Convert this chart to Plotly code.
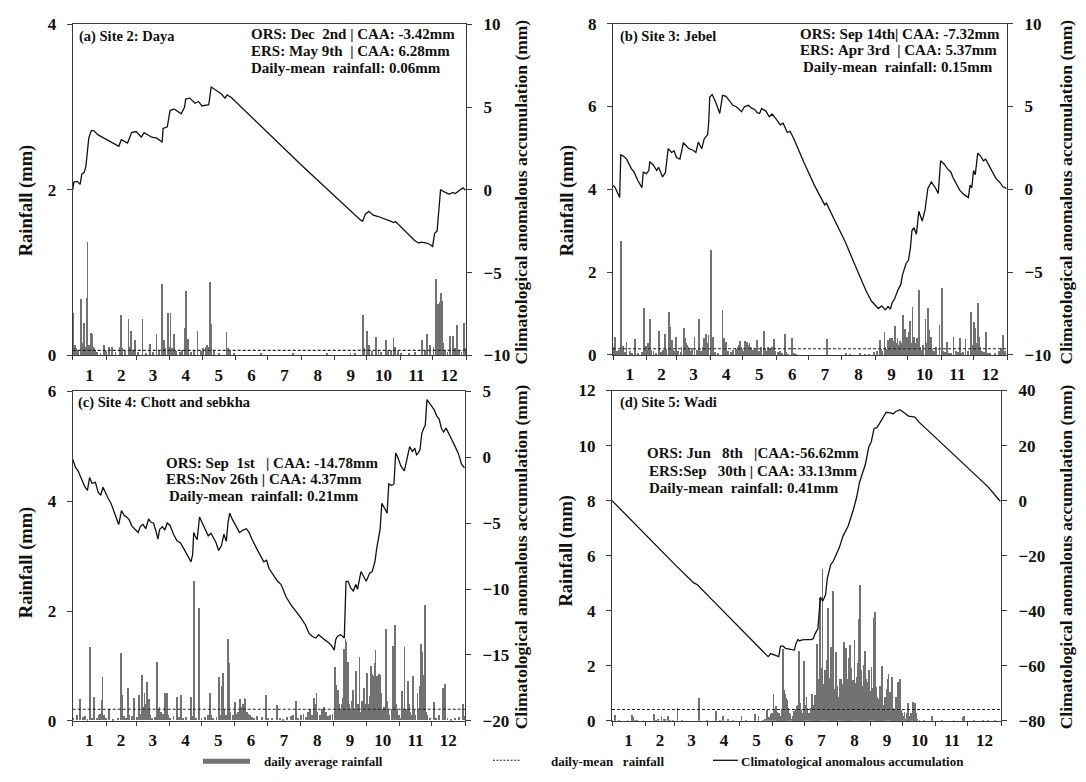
import plotly.graph_objects as go

W, H = 1086, 782

# ---------------- shared axis data ----------------
month_labels = ['1', '2', '3', '4', '5', '6', '7', '8', '9', '10', '11', '12']
month_mid = [16, 45.5, 75, 105.5, 136, 166.5, 197, 228, 258.5, 289, 319.5, 350]
month_edges = [0.5, 31.5, 59.5, 90.5, 120.5, 151.5, 181.5, 212.5, 243.5, 273.5, 304.5, 334.5, 365.5]

# ---------------- (a) Site 2: Daya ----------------
rain_day_a = [1, 2, 3, 5, 8, 9, 11, 12, 13, 14, 15, 16, 17, 18, 19, 20, 21, 23, 26, 29, 31, 34, 37, 40, 44, 45,
              46, 49, 52, 53, 54, 56, 58, 61, 65, 68, 72, 75, 78, 80, 83, 84, 85, 86, 89, 90, 91, 92, 94, 96, 100,
              102, 104, 105, 107, 110, 113, 116, 119, 121, 124, 125, 126, 128, 129, 131, 136, 143, 144, 146, 150,
              175, 205, 236, 258, 262, 270, 271, 273, 275, 278, 282, 284, 286, 291, 293, 296, 298, 299, 302, 305,
              312, 318, 324, 327, 329, 332, 335, 337, 338, 339, 340, 341, 342, 343, 344, 346, 348, 350, 353, 355,
              357, 359, 361, 363, 364]
rain_val_a = [0.51, 0.12, 0.08, 0.06, 0.68, 0.14, 0.39, 0.10, 0.69, 1.37, 0.12, 0.08, 0.27, 0.25, 0.10, 0.08, 0.06,
              0.04, 0.03, 0.12, 0.05, 0.10, 0.10, 0.04, 0.10, 0.48, 0.08, 0.05, 0.43, 0.10, 0.29, 0.06, 0.18, 0.04,
              0.43, 0.03, 0.13, 0.04, 0.25, 0.06, 0.86, 0.12, 0.18, 0.08, 0.51, 0.10, 0.51, 0.08, 0.25, 0.05, 0.04,
              0.06, 0.33, 0.77, 0.19, 0.04, 0.06, 0.29, 0.05, 0.08, 0.10, 0.12, 0.10, 0.88, 0.37, 0.06, 0.03, 0.28,
              0.08, 0.05, 0.02, 0.02, 0.02, 0.02, 0.02, 0.03, 0.49, 0.08, 0.29, 0.12, 0.05, 0.22, 0.06, 0.04, 0.18,
              0.05, 0.06, 0.21, 0.10, 0.05, 0.03, 0.03, 0.04, 0.18, 0.05, 0.25, 0.12, 0.10, 0.92, 0.33, 0.62, 0.45,
              0.64, 0.75, 0.65, 0.15, 0.06, 0.04, 0.23, 0.23, 0.08, 0.36, 0.06, 0.04, 0.39, 0.08]
caa_day_a = [0.5, 1.6, 4.8, 7.4, 9.0, 11.2, 12.8, 15.4, 17.7, 19.9, 24.1, 32.1, 43.3, 45.6, 51.4, 55.2, 59.4, 64.2,
             66.8, 73.8, 78.6, 81.2, 83.5, 84.4, 88.3, 90.8, 94.7, 101.1, 104.3, 105.3, 109.1, 114.0, 117.2, 120.4,
             126.8, 129.0, 138.0, 141.9, 143.8, 147.7, 211.9, 268.0, 269.6, 272.2, 275.4, 279.3, 284.1, 295.3,
             298.5, 300.1, 317.8, 321.6, 324.2, 329.0, 332.2, 334.5, 336.4, 338.7, 341.9, 344.1, 349.9, 353.1,
             355.7, 359.5, 362.7, 365.0]
caa_val_a = [0.0, 0.47, 0.51, 0.33, 0.96, 1.06, 1.45, 3.12, 3.58, 3.58, 3.32, 3.03, 2.63, 3.03, 2.83, 3.46, 3.52,
             3.18, 3.46, 3.18, 3.12, 2.99, 2.87, 3.71, 3.81, 4.79, 4.89, 4.60, 4.99, 5.48, 5.54, 5.23, 5.34, 5.07,
             5.15, 6.21, 5.82, 5.54, 5.74, 5.58, 1.55, -1.85, -1.89, -1.45, -1.30, -1.53, -1.61, -1.89, -1.98,
             -1.92, -3.06, -3.22, -3.16, -3.22, -3.30, -3.42, -2.63, -2.48, 0.02, -0.08, -0.27, -0.16, -0.22,
             -0.02, 0.12, -0.02]
mean_a = 0.06

# ---------------- (b) Site 3: Jebel ----------------
rain_day_b = [1, 2, 4, 6, 8, 9, 10, 12, 13, 16, 18, 21, 24, 27, 29, 30, 31, 32, 33, 35, 36, 38, 40, 43, 45, 47, 49,
              50, 52, 53, 54, 55, 56, 57, 59, 61, 63, 64, 66, 67, 68, 69, 70, 71, 72, 74, 76, 78, 80, 82, 84, 85,
              87, 88, 89, 91, 92, 93, 95, 98, 102, 103, 104, 105, 107, 110, 112, 114, 115, 116, 117, 118, 119, 120,
              121, 123, 124, 125, 126, 127, 128, 130, 132, 134, 136, 138, 140, 141, 143, 144, 146, 147, 148, 150,
              151, 153, 155, 157, 160, 161, 163, 166, 168, 170, 199, 216, 220, 229, 234, 238, 242, 245, 248, 249,
              250, 252, 253, 254, 255, 256, 257, 258, 259, 260, 261, 262, 263, 264, 265, 266, 267, 268, 269, 270,
              271, 272, 273, 275, 276, 277, 278, 279, 280, 281, 282, 283, 284, 285, 286, 288, 290, 291, 292, 293,
              294, 295, 296, 298, 300, 303, 305, 306, 308, 310, 312, 314, 316, 318, 320, 322, 324, 325, 327, 329,
              332, 333, 334, 335, 336, 337, 338, 339, 340, 341, 342, 344, 346, 348, 350, 354, 358, 360, 362, 364]
rain_val_b = [0.20, 0.45, 0.10, 0.12, 2.77, 0.15, 0.22, 0.08, 0.32, 0.10, 0.06, 0.39, 0.05, 0.08, 1.14, 0.20, 0.22,
              0.15, 0.30, 0.88, 0.12, 0.10, 0.06, 0.59, 0.08, 0.12, 0.51, 0.15, 1.05, 0.69, 0.30, 0.38, 0.12, 0.10,
              0.43, 0.10, 0.08, 0.20, 0.66, 0.41, 0.30, 0.25, 0.20, 0.15, 0.10, 0.18, 0.44, 0.12, 0.88, 0.10, 0.20,
              0.41, 0.52, 0.30, 0.49, 2.54, 0.20, 0.45, 0.08, 0.05, 1.09, 0.41, 0.15, 0.31, 0.10, 0.08, 0.12, 0.18,
              0.15, 0.20, 0.25, 0.35, 0.20, 0.15, 0.10, 0.34, 0.30, 0.33, 0.25, 0.30, 0.20, 0.12, 0.15, 0.38, 0.10,
              0.20, 0.59, 0.15, 0.10, 0.20, 0.15, 0.12, 0.20, 0.40, 0.10, 0.08, 0.10, 0.05, 0.52, 0.08, 0.04, 0.41,
              0.05, 0.03, 0.39, 0.05, 0.03, 0.05, 0.04, 0.04, 0.08, 0.10, 0.38, 0.15, 0.10, 0.55, 0.20, 0.15, 0.38,
              0.12, 0.41, 0.20, 0.41, 0.30, 0.35, 0.71, 0.30, 0.41, 0.25, 0.34, 0.20, 0.30, 0.98, 0.25, 0.63, 0.30,
              0.45, 0.55, 0.82, 0.30, 1.17, 0.45, 0.20, 0.30, 0.41, 0.15, 1.57, 0.20, 0.12, 0.25, 0.87, 0.30, 1.14,
              0.61, 0.20, 0.45, 0.15, 0.10, 0.20, 0.74, 1.63, 0.10, 0.08, 0.32, 0.05, 0.06, 0.45, 0.10, 0.08, 0.41,
              0.06, 0.08, 0.40, 0.10, 1.04, 0.25, 0.20, 0.80, 0.66, 0.30, 0.20, 1.25, 0.45, 0.20, 0.10, 0.08, 0.55,
              0.05, 0.06, 0.05, 0.10, 0.18, 0.48, 0.10]
caa_day_b = [0.5, 2.6, 6.7, 7.7, 10.6, 13.1, 17.6, 19.6, 23.4, 27.3, 28.5, 31.4, 33.7, 34.6, 37.8, 41.0, 42.7, 46.5,
             49.1, 51.6, 54.8, 57.1, 59.3, 62.5, 65.7, 68.3, 70.9, 74.1, 77.3, 79.5, 82.7, 85.0, 88.2, 89.2, 90.1,
             92.4, 95.6, 99.4, 102.0, 105.2, 109.4, 111.6, 114.8, 117.1, 119.6, 122.2, 126.0, 129.2, 131.8, 134.1,
             136.3, 138.2, 142.1, 145.3, 147.8, 151.7, 155.5, 158.1, 161.9, 164.5, 167.7, 177.3, 187.0, 196.6,
             198.2, 206.2, 215.8, 222.2, 228.7, 235.1, 239.9, 243.1, 246.3, 249.5, 252.7, 255.3, 257.5, 259.1,
             261.4, 264.6, 267.1, 268.7, 272.0, 274.2, 276.1, 277.4, 279.3, 281.6, 283.8, 287.0, 289.6, 292.2,
             295.4, 298.6, 301.8, 304.0, 307.2, 310.4, 313.6, 315.2, 318.5, 321.7, 325.5, 329.7, 331.3, 332.9,
             334.5, 336.1, 338.4, 340.9, 343.5, 345.7, 350.5, 355.3, 358.5, 361.8, 365.0]
caa_val_b = [0.25, 0.09, -0.50, 2.08, 1.98, 1.82, 1.23, 1.09, 0.54, 0.09, 1.03, 0.94, 1.13, 1.67, 1.47, 1.13, 1.33,
             0.74, 1.03, 2.45, 2.22, 2.32, 1.92, 1.82, 2.81, 2.65, 2.45, 2.37, 2.22, 2.85, 2.45, 3.04, 3.30, 4.09,
             5.57, 5.72, 5.27, 4.58, 5.67, 5.61, 5.27, 5.07, 4.98, 4.82, 4.68, 4.98, 5.07, 4.88, 4.82, 4.62, 4.58,
             4.88, 4.72, 4.38, 4.54, 4.23, 3.89, 3.99, 3.44, 3.50, 3.10, 1.63, 0.25, -0.94, -0.84, -1.92, -3.20,
             -4.19, -5.17, -6.16, -6.75, -6.95, -7.20, -7.04, -7.28, -7.08, -7.24, -6.85, -6.61, -6.06, -5.76,
             -5.17, -4.48, -4.29, -3.50, -2.51, -2.32, -2.71, -1.33, -1.92, -1.23, 0.05, 0.44, 0.15, -0.25, 1.72,
             1.53, 1.23, 1.03, 0.74, 0.34, -0.05, -0.31, -0.50, 0.25, 0.09, 1.13, 0.88, 2.18, 2.02, 1.72, 1.82,
             1.23, 0.64, 0.44, 0.15, 0.05]
mean_b = 0.15

# ---------------- (c) Site 4: Chott and sebkha ----------------
rain_day_c = [1, 4, 7, 10, 12, 14, 16, 18, 20, 23, 25, 26, 27, 28, 29, 31, 34, 38, 42, 45, 46, 48, 50, 52, 53, 55,
              57, 60, 62, 63, 65, 66, 67, 68, 69, 70, 71, 72, 74, 77, 79, 80, 81, 82, 83, 84, 86, 87, 88, 89, 91,
              94, 97, 99, 101, 103, 106, 110, 111, 113, 115, 118, 120, 123, 126, 128, 129, 131, 134, 136, 137, 139,
              140, 141, 143, 145, 146, 147, 149, 151, 152, 154, 156, 157, 158, 159, 160, 161, 162, 163, 165, 167,
              169, 172, 176, 180, 182, 186, 190, 193, 196, 200, 203, 205, 208, 210, 213, 215, 217, 219, 221, 223,
              225, 226, 227, 228, 230, 232, 234, 236, 238, 240, 242, 244, 245, 246, 247, 248, 249, 250, 251, 252,
              253, 254, 255, 256, 257, 258, 259, 260, 261, 262, 263, 264, 265, 266, 267, 268, 269, 271, 272, 273,
              274, 275, 276, 277, 278, 279, 280, 281, 282, 283, 284, 285, 286, 287, 288, 289, 290, 292, 293, 294,
              295, 297, 298, 299, 300, 301, 302, 304, 305, 307, 308, 309, 310, 312, 313, 314, 315, 317, 318, 319,
              321, 322, 323, 324, 325, 326, 327, 328, 329, 330, 333, 336, 338, 341, 345, 347, 349, 352, 356, 360,
              363, 364]
rain_val_c = [0.05, 0.10, 0.38, 0.06, 0.08, 0.03, 1.34, 0.05, 0.43, 0.04, 0.10, 0.12, 0.37, 0.78, 0.10, 0.05, 0.20,
              0.03, 0.05, 1.22, 0.47, 0.08, 0.05, 0.58, 0.10, 0.08, 0.40, 0.06, 0.47, 0.12, 0.82, 0.25, 0.49, 0.30,
              0.69, 0.15, 0.38, 0.10, 0.05, 0.06, 1.07, 0.20, 0.25, 0.15, 0.10, 0.12, 0.49, 0.20, 0.49, 0.10, 0.05,
              0.08, 0.43, 0.06, 0.46, 0.04, 0.06, 0.43, 0.08, 2.53, 0.05, 2.05, 0.04, 0.06, 0.10, 0.49, 0.10, 0.05,
              0.06, 0.78, 0.10, 0.62, 0.86, 0.20, 0.10, 1.49, 1.04, 0.15, 0.10, 0.33, 0.12, 0.15, 0.38, 0.20, 0.25,
              0.30, 0.41, 0.38, 0.15, 0.12, 0.10, 0.06, 0.05, 0.08, 0.06, 0.47, 0.05, 0.04, 0.27, 0.05, 0.03, 0.06,
              0.08, 0.10, 0.36, 0.05, 0.10, 0.12, 0.06, 0.15, 0.20, 0.10, 0.41, 0.30, 0.49, 0.15, 0.10, 0.20, 0.25,
              0.15, 0.08, 0.10, 0.12, 0.98, 0.65, 0.20, 0.55, 0.30, 0.15, 0.20, 0.30, 0.40, 1.30, 1.49, 1.43, 1.07,
              0.30, 0.20, 0.15, 0.35, 0.56, 0.20, 0.15, 0.90, 0.20, 0.30, 1.15, 0.15, 0.35, 0.59, 0.25, 0.30, 0.86,
              0.20, 0.30, 0.45, 0.99, 0.84, 0.80, 1.04, 1.29, 0.80, 0.78, 0.84, 0.82, 0.50, 0.20, 0.15, 0.25, 1.67,
              0.35, 0.20, 0.10, 0.20, 1.35, 0.30, 1.73, 0.30, 0.20, 0.10, 0.05, 0.53, 0.20, 1.33, 0.20, 0.71, 0.30,
              0.15, 0.10, 0.81, 0.20, 0.10, 0.49, 0.20, 0.62, 1.39, 1.24, 0.83, 0.30, 2.10, 0.15, 0.10, 0.05, 0.34,
              0.05, 0.10, 0.58, 0.66, 0.05, 0.03, 0.04, 0.06, 0.30, 0.08]
caa_day_c = [0.6, 3.2, 5.5, 8.7, 12.0, 14.2, 16.2, 18.4, 21.6, 24.2, 26.5, 28.7, 31.3, 33.6, 36.2, 41.0, 43.3, 45.9,
             48.5, 50.7, 53.0, 55.6, 58.8, 61.4, 63.6, 65.9, 68.5, 71.1, 73.3, 75.6, 78.2, 79.8, 81.4, 84.0, 86.2,
             88.5, 91.1, 94.3, 97.5, 100.8, 104.0, 107.2, 110.5, 112.1, 113.1, 114.3, 116.3, 118.5, 120.8, 123.4,
             126.6, 129.2, 131.5, 133.7, 136.3, 138.9, 141.2, 143.4, 145.0, 146.6, 149.2, 152.5, 155.7, 158.9,
             162.1, 164.7, 167.0, 171.8, 178.3, 180.9, 183.1, 188.0, 191.2, 194.4, 199.3, 204.1, 209.0, 212.2,
             217.1, 220.3, 223.5, 226.7, 229.3, 231.6, 234.8, 238.1, 241.3, 243.9, 245.2, 246.8, 249.4, 251.0,
             253.2, 254.8, 256.8, 259.0, 261.6, 263.9, 265.5, 268.7, 271.3, 273.6, 276.8, 279.1, 281.7, 283.3,
             286.5, 288.1, 290.7, 293.0, 294.6, 297.2, 299.4, 301.0, 302.7, 305.9, 309.1, 311.4, 314.0, 316.5,
             318.8, 320.4, 322.0, 323.6, 325.3, 326.9, 328.5, 330.1, 333.3, 336.6, 339.2, 341.4, 343.7, 345.6,
             347.9, 350.1, 352.7, 355.9, 359.2, 362.4, 365.0]
caa_val_c = [-0.17, -0.79, -1.03, -1.65, -2.27, -2.51, -1.53, -1.97, -1.90, -2.64, -2.88, -2.27, -2.76, -3.13,
             -3.50, -4.48, -5.10, -4.04, -4.43, -4.53, -4.73, -5.22, -5.47, -5.71, -5.22, -5.10, -5.42, -4.68,
             -4.93, -4.98, -5.67, -6.21, -5.47, -5.27, -5.52, -4.98, -5.17, -5.84, -6.33, -6.50, -6.95, -7.44,
             -7.93, -7.39, -5.71, -5.96, -6.26, -4.53, -4.93, -5.47, -5.96, -5.76, -6.08, -6.45, -7.07, -6.70,
             -5.84, -6.38, -4.98, -4.24, -4.73, -5.22, -5.71, -5.52, -5.42, -5.71, -6.16, -6.95, -7.93, -7.81,
             -8.42, -9.04, -9.41, -9.66, -10.64, -11.26, -11.75, -12.12, -12.73, -13.35, -13.60, -13.72, -13.47,
             -13.65, -13.84, -14.04, -14.29, -14.63, -13.84, -13.60, -13.47, -13.55, -13.72, -9.41, -9.41, -9.90,
             -10.15, -9.66, -10.02, -8.67, -9.04, -9.41, -8.79, -8.67, -7.93, -6.95, -5.47, -3.50, -3.87, -4.24,
             -2.02, -2.14, -2.02, 0.32, 0.07, -0.67, -1.03, -0.05, 0.81, 0.44, 0.69, 0.20, 0.32, 0.57, 1.80, 2.17,
             2.41, 4.38, 4.01, 3.65, 3.15, 2.91, 2.17, 1.92, 2.22, 1.80, 1.43, 0.89, 0.32, -0.54, -0.79]
mean_c = 0.21

# ---------------- (d) Site 5: Wadi ----------------
rain_day_d = [1, 3, 7, 15, 19, 20, 22, 24, 30, 40, 42, 44, 47, 49, 50, 53, 55, 58, 62, 66, 82, 90, 98, 102, 105,
              109, 114, 122, 126, 135, 138, 142, 144, 146, 148, 150, 151, 152, 153, 154, 155, 156, 157, 158, 159,
              160, 161, 162, 163, 164, 165, 166, 167, 168, 169, 170, 171, 172, 173, 174, 175, 176, 177, 178, 179,
              180, 181, 182, 183, 184, 185, 186, 187, 188, 189, 190, 191, 192, 193, 194, 195, 196, 197, 198, 199,
              200, 201, 202, 203, 204, 205, 206, 207, 208, 209, 210, 211, 212, 213, 214, 215, 216, 217, 218, 219,
              220, 221, 222, 223, 224, 225, 226, 227, 228, 229, 230, 231, 232, 233, 234, 235, 236, 237, 238, 239,
              240, 241, 242, 243, 244, 245, 246, 247, 248, 249, 250, 251, 252, 253, 254, 255, 256, 257, 258, 259,
              260, 261, 262, 263, 264, 265, 266, 267, 268, 269, 270, 271, 272, 273, 274, 275, 276, 277, 278, 279,
              280, 281, 283, 284, 285, 286, 287, 289, 293, 301, 310, 321, 330, 331, 340, 349, 353, 360]
rain_val_d = [0.05, 0.23, 0.05, 0.04, 0.23, 0.15, 0.06, 0.04, 0.03, 0.27, 0.05, 0.10, 0.21, 0.08, 0.10, 0.20, 0.06,
              0.05, 0.47, 0.03, 0.86, 0.03, 0.39, 0.04, 0.21, 0.10, 0.05, 0.21, 0.05, 0.26, 0.21, 0.06, 0.10, 0.41,
              0.15, 0.25, 0.30, 1.00, 0.40, 0.56, 0.35, 0.25, 0.30, 0.15, 0.20, 0.45, 2.61, 1.12, 1.00, 0.85, 0.76,
              0.47, 0.30, 0.25, 0.10, 0.20, 0.38, 0.30, 0.45, 0.56, 0.60, 2.55, 0.68, 0.40, 0.20, 0.30, 2.20, 0.59,
              0.90, 0.50, 0.30, 0.25, 0.50, 1.00, 0.40, 0.60, 0.96, 0.80, 2.80, 1.53, 1.20, 4.49, 1.94, 5.55, 1.35,
              1.88, 1.10, 2.23, 4.11, 1.59, 0.90, 2.70, 2.12, 4.72, 1.18, 1.00, 2.51, 1.29, 0.90, 1.53, 1.55, 1.35,
              0.80, 2.88, 1.88, 2.68, 1.53, 1.10, 2.29, 2.76, 1.94, 1.20, 1.50, 2.96, 1.40, 1.60, 2.12, 3.70, 4.94,
              1.88, 1.06, 1.30, 2.06, 2.56, 1.53, 1.20, 1.41, 1.88, 1.10, 1.97, 1.20, 3.76, 3.97, 1.23, 0.90, 0.65,
              0.80, 1.29, 0.70, 2.00, 0.60, 0.50, 0.90, 1.18, 1.55, 1.70, 1.06, 0.80, 1.62, 0.50, 0.30, 0.40, 0.88,
              0.60, 1.41, 1.27, 1.55, 0.40, 0.30, 0.20, 0.35, 0.10, 0.30, 0.68, 0.20, 0.15, 0.30, 0.70, 0.40, 0.65,
              0.30, 0.10, 0.05, 0.03, 0.21, 0.03, 0.04, 0.15, 0.21, 0.03, 0.04, 0.06, 0.03]
caa_day_d = [0.5, 15.6, 28.6, 44.9, 61.0, 77.0, 80.6, 93.6, 110.0, 126.0, 139.0, 144.0, 147.0, 149.5, 153.0, 157.0,
             158.6, 161.2, 163.4, 167.7, 171.6, 173.2, 174.9, 176.5, 178.1, 181.0, 187.2, 189.4, 191.0, 193.7,
             195.0, 196.0, 198.3, 200.9, 202.5, 205.7, 208.0, 210.6, 213.9, 217.2, 222.0, 226.9, 230.1, 232.7,
             235.0, 238.2, 241.5, 243.8, 246.4, 249.0, 251.3, 254.5, 257.8, 262.0, 264.3, 266.5, 270.7, 274.0,
             278.8, 284.7, 288.6, 304.9, 321.0, 337.3, 353.6, 363.3, 365.0]
caa_val_d = [0.0, -6.0, -11.1, -17.5, -23.8, -29.8, -30.6, -35.7, -42.2, -48.5, -53.6, -55.5, -56.7, -55.6, -56.0,
             -56.7, -52.9, -52.9, -53.7, -54.1, -54.3, -51.9, -50.5, -51.0, -50.7, -50.5, -50.5, -50.1, -48.4,
             -46.6, -40.1, -35.1, -36.5, -34.2, -28.3, -23.3, -22.1, -20.0, -17.0, -12.9, -9.3, -3.4, 1.3, 6.6,
             9.0, 13.1, 19.6, 21.4, 26.2, 26.5, 27.9, 29.9, 32.1, 31.9, 31.5, 32.3, 33.0, 32.1, 30.7, 30.3, 28.5,
             22.6, 16.7, 10.8, 4.9, 0.4, -0.3]
mean_d = 0.41

# ---------------- panel texts / scales ----------------
titles = ['(a) Site 2: Daya', '(b) Site 3: Jebel', '(c) Site 4: Chott and sebkha', '(d) Site 5: Wadi']
info_texts = [
    ['ORS: Dec\u00a0\u00a02nd | CAA: -3.42mm', 'ERS: May 9th\u00a0 | CAA: 6.28mm', 'Daily-mean\u00a0 rainfall: 0.06mm'],
    ['ORS: Sep 14th| CAA: -7.32mm', 'ERS:\u00a0Apr 3rd\u00a0 | CAA: 5.37mm', 'Daily-mean\u00a0 rainfall: 0.15mm'],
    ['ORS:\u00a0Sep\u00a0\u00a01st\u00a0\u00a0 | CAA: -14.78mm', 'ERS:Nov\u00a026th | CAA:\u00a04.37mm', 'Daily-mean\u00a0 rainfall:\u00a00.21mm'],
    ['ORS:\u00a0Jun\u00a0\u00a0 8th\u00a0\u00a0 |CAA:-56.62mm', 'ERS:Sep\u00a0\u00a0 30th | CAA:\u00a033.13mm', 'Daily-mean\u00a0 rainfall:\u00a00.41mm'],
]
left_ranges = [[0, 4], [0, 8], [0, 6], [0, 12]]
left_ticks = [[0, 2, 4], [0, 2, 4, 6, 8], [0, 2, 4, 6], [0, 2, 4, 6, 8, 10, 12]]
right_ranges = [[-10, 10], [-10, 10], [-20, 5], [-80, 40]]
right_ticks = [[-10, -5, 0, 5, 10], [-10, -5, 0, 5, 10], [-20, -15, -10, -5, 0, 5], [-80, -60, -40, -20, 0, 20, 40]]
legend_labels = ['daily average rainfall', 'daily-mean\u00a0\u00a0 rainfall', 'Climatological anomalous accumulation']
left_title = 'Rainfall (mm)'
right_title = 'Climatological anomalous accumulation (mm)'

rain_days = [rain_day_a, rain_day_b, rain_day_c, rain_day_d]
rain_vals = [rain_val_a, rain_val_b, rain_val_c, rain_val_d]
caa_days = [caa_day_a, caa_day_b, caa_day_c, caa_day_d]
caa_vals = [caa_val_a, caa_val_b, caa_val_c, caa_val_d]
means = [mean_a, mean_b, mean_c, mean_d]

# ---------------- layout geometry (pixels) ----------------
boxes = [(72.7, 466, 15.7, 355), (613, 1007, 15, 354.5), (72.7, 465, 392, 729.5), (612, 1001, 391, 729.5)]
title_pos = [(77, 28.5), (618, 28.5), (76, 403), (618, 403)]
info_pos = [[(249, 26), (249, 43), (249, 60.5)],
            [(798, 26), (798, 42), (801, 59.5)],
            [(164, 465), (164, 482), (167, 499)],
            [(645, 455), (647, 473), (647, 491)]]
ltitle_pos = [(26, 196), (567, 196), (26, 567), (567, 555)]
rtitle_pos = [(521, 188), (1066, 188), (521, 562), (1066, 562)]

FONT = 'Liberation Serif, Times New Roman, serif'
INK = '#111111'
AX = '#3a3a3a'
TICKSIZE = 17


def px(x):
    return x / W


def py(y):
    return 1 - y / H


fig = go.Figure()
layout = dict(width=W, height=H, autosize=False, margin=dict(l=0, r=0, t=0, b=0),
              paper_bgcolor='white', plot_bgcolor='white', showlegend=False,
              font=dict(family=FONT, color=INK, size=14, weight='bold'), bargap=0)
annotations = []
shapes = []

for k in range(4):
    xid = 'x' if k == 0 else f'x{k + 1}'
    ly = 2 * k + 1
    ry = 2 * k + 2
    lid = 'y' if ly == 1 else f'y{ly}'
    rid = f'y{ry}'
    l, r, t, b = boxes[k]
    xd = [px(l), px(r)]
    yd = [py(b), py(t)]

    fig.add_trace(go.Bar(x=rain_days[k], y=rain_vals[k], width=0.8, xaxis=xid, yaxis=lid,
                         marker=dict(color='#727272', line=dict(width=0)), name=legend_labels[0]))
    fig.add_trace(go.Scatter(x=[month_edges[0], month_edges[-1]], y=[means[k], means[k]], mode='lines',
                             xaxis=xid, yaxis=lid, line=dict(color='#222222', width=1.1, dash='3px,2px'),
                             name=legend_labels[1]))
    fig.add_trace(go.Scatter(x=caa_days[k], y=caa_vals[k], mode='lines', xaxis=xid, yaxis=rid,
                             line=dict(color='#111111', width=1.3), name=legend_labels[2]))

    xname = 'xaxis' if k == 0 else f'xaxis{k + 1}'
    layout[xname] = dict(domain=xd, anchor=lid, range=[0.5, 365.5], tickmode='array', tickvals=month_mid,
                         ticktext=month_labels, ticks='', showline=True, linecolor=AX, linewidth=1.2,
                         mirror=True, showgrid=False, zeroline=False, ticklabelstandoff=4,
                         tickfont=dict(family=FONT, size=TICKSIZE, color=INK, weight='bold'),
                         minor=dict(tickmode='array', tickvals=month_edges, ticks='outside', ticklen=4,
                                    tickcolor=AX, tickwidth=1, showgrid=False))
    lname = 'yaxis' if ly == 1 else f'yaxis{ly}'
    layout[lname] = dict(domain=yd, anchor=xid, range=left_ranges[k], tickmode='array', tickvals=left_ticks[k],
                         ticks='outside', ticklen=5, tickcolor=AX, showline=True, linecolor=AX, linewidth=1.2,
                         showgrid=False, zeroline=False, ticklabelstandoff=7,
                         tickfont=dict(family=FONT, size=TICKSIZE, color=INK, weight='bold'))
    layout[f'yaxis{ry}'] = dict(domain=yd, anchor=xid, overlaying=lid, side='right', range=right_ranges[k],
                                tickmode='array', tickvals=right_ticks[k], ticks='outside', ticklen=5,
                                tickcolor=AX, showline=True, linecolor=AX, linewidth=1.2, showgrid=False,
                                zeroline=False, ticklabelstandoff=8,
                                tickfont=dict(family=FONT, size=TICKSIZE, color=INK, weight='bold'))

    tx, ty = title_pos[k]
    annotations.append(dict(x=px(tx), y=py(ty), xref='paper', yref='paper', text=titles[k], showarrow=False,
                            xanchor='left', yanchor='middle', font=dict(size=14.5, weight='bold')))
    for (ix, iy), txt in zip(info_pos[k], info_texts[k]):
        annotations.append(dict(x=px(ix), y=py(iy), xref='paper', yref='paper', text=txt, showarrow=False,
                                xanchor='left', yanchor='middle', font=dict(size=15, weight='bold')))
    lx, lyy = ltitle_pos[k]
    annotations.append(dict(x=px(lx), y=py(lyy), xref='paper', yref='paper', text=left_title, showarrow=False,
                            textangle=-90, xanchor='center', yanchor='middle', font=dict(size=18.5, weight='bold')))
    rx, ryy = rtitle_pos[k]
    annotations.append(dict(x=px(rx), y=py(ryy), xref='paper', yref='paper', text=right_title, showarrow=False,
                            textangle=-90, xanchor='center', yanchor='middle', font=dict(size=17.5, weight='bold')))

# ---------------- bottom legend ----------------
leg_y = 771
shapes.append(dict(type='rect', xref='paper', yref='paper', x0=px(203), x1=px(250), y0=py(leg_y + 2.5),
                   y1=py(leg_y - 2.5), fillcolor='#727272', line=dict(width=0)))
annotations.append(dict(x=px(262), y=py(leg_y), xref='paper', yref='paper', text=legend_labels[0],
                        showarrow=False, xanchor='left', yanchor='middle', font=dict(size=13, weight='bold')))
shapes.append(dict(type='line', xref='paper', yref='paper', x0=px(493), x1=px(521), y0=py(leg_y - 1),
                   y1=py(leg_y - 1), line=dict(color='#222222', width=1.1, dash='2px,1.5px')))
annotations.append(dict(x=px(549), y=py(leg_y), xref='paper', yref='paper', text=legend_labels[1],
                        showarrow=False, xanchor='left', yanchor='middle', font=dict(size=13, weight='bold')))
shapes.append(dict(type='line', xref='paper', yref='paper', x0=px(713), x1=px(738), y0=py(leg_y - 1),
                   y1=py(leg_y - 1), line=dict(color='#111111', width=1.3)))
annotations.append(dict(x=px(739), y=py(leg_y), xref='paper', yref='paper', text=legend_labels[2],
                        showarrow=False, xanchor='left', yanchor='middle', font=dict(size=13, weight='bold')))

layout['annotations'] = annotations
layout['shapes'] = shapes
fig.update_layout(**layout)

fig.write_html('out.html', config={'displayModeBar': False},
               post_script="document.body.style.margin='0px';document.body.style.overflow='hidden';")
